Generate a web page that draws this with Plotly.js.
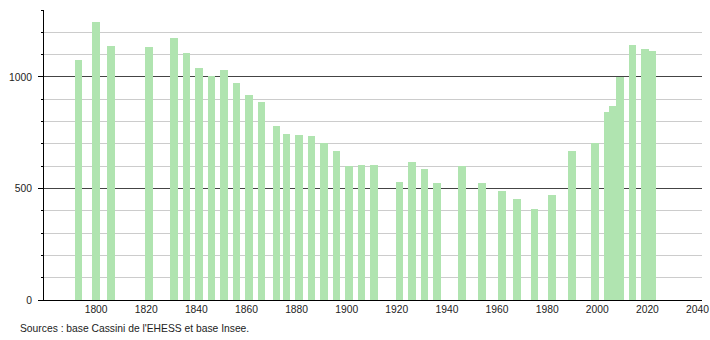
<!DOCTYPE html>
<html>
<head>
<meta charset="utf-8">
<script src="https://cdn.plot.ly/plotly-3.0.1.min.js"></script>
<style>
  html, body { margin: 0; padding: 0; background: #fff; }
  #chart { width: 710px; height: 340px; }
</style>
</head>
<body>
<div id="chart"></div>
<script>
const years = [1793, 1800, 1806, 1821, 1831, 1836, 1841, 1846, 1851, 1856, 1861, 1866,
  1872, 1876, 1881, 1886, 1891, 1896, 1901, 1906, 1911, 1921, 1926, 1931, 1936,
  1946, 1954, 1962, 1968, 1975, 1982, 1990, 1999, 2004, 2006, 2009, 2014, 2019, 2022];
const population = [1074, 1244, 1137, 1134, 1173, 1106, 1038, 1002, 1029, 974, 921, 886,
  778, 742, 741, 733, 703, 669, 601, 607, 603, 531, 618, 588, 523,
  601, 523, 489, 451, 408, 471, 668, 703, 842, 871, 1001, 1142, 1124, 1116];
const xTickVals = [1800, 1820, 1840, 1860, 1880, 1900, 1920, 1940, 1960, 1980, 2000, 2020, 2040];
const xTickText = ["1800", "1820", "1840", "1860", "1880", "1900", "1920", "1940", "1960", "1980", "2000", "2020", "2040"];
const sourceText = "Sources : base Cassini de l'EHESS et base Insee.";

const trace = {
  type: 'bar',
  x: years,
  y: population,
  width: 3,
  marker: { color: 'rgb(176,228,176)', line: { width: 0 } },
  hoverinfo: 'x+y'
};

const font = { family: '"Liberation Sans", Arial, sans-serif', size: 10.3, color: '#222' };

const layout = {
  width: 710,
  height: 340,
  margin: { l: 44, r: 8, t: 10, b: 40 },
  paper_bgcolor: '#fff',
  plot_bgcolor: '#fff',
  showlegend: false,
  font: font,
  bargap: 0,
  xaxis: {
    range: [1779.2, 2041.8],
    tickvals: xTickVals,
    ticktext: xTickText,
    showgrid: false,
    zeroline: false,
    showline: true,
    linecolor: '#000',
    linewidth: 1,
    ticks: '',
    tickfont: font,
    fixedrange: true
  },
  yaxis: {
    range: [0, 1300],
    tick0: 0,
    dtick: 500,
    showgrid: true,
    gridcolor: '#444',
    gridwidth: 1,
    zeroline: false,
    showline: true,
    linecolor: '#000',
    linewidth: 1,
    ticks: 'outside',
    ticklen: 5,
    tickcolor: '#000',
    ticklabelstandoff: 4,
    tickfont: font,
    minor: {
      dtick: 100,
      tick0: 0,
      showgrid: true,
      gridcolor: '#cccccc',
      gridwidth: 1,
      ticks: 'outside',
      ticklen: 2,
      tickcolor: '#000'
    },
    fixedrange: true
  },
  annotations: [{
    text: sourceText,
    xref: 'paper', yref: 'paper',
    x: -0.0395, y: -0.097,
    xanchor: 'left', yanchor: 'middle',
    showarrow: false,
    font: font
  }]
};

Plotly.newPlot('chart', [trace], layout, { displayModeBar: false, staticPlot: true });
</script>
</body>
</html>
